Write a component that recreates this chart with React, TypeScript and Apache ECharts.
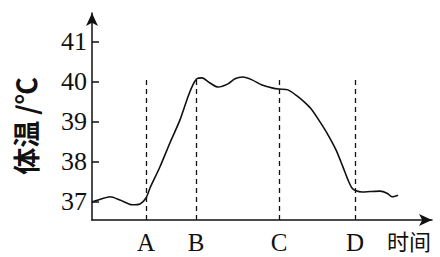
import React, { useEffect, useRef } from "react";
import * as echarts from "echarts";

const timeValues: number[] = [0, 10, 18, 28, 40, 48, 54, 58, 68, 78, 88, 96, 101, 105, 110, 118, 126, 136, 143, 151, 160, 170, 180, 187, 196, 205, 213, 220, 228, 235, 244, 251, 256, 260, 264, 270, 278, 288, 295, 300, 306];
const tempValues: number[] = [37.0, 37.08, 37.13, 37.05, 36.93, 36.95, 37.1, 37.35, 37.88, 38.48, 39.05, 39.63, 39.93, 40.08, 40.1, 39.97, 39.87, 39.95, 40.08, 40.12, 40.05, 39.92, 39.85, 39.82, 39.8, 39.65, 39.48, 39.3, 39.0, 38.72, 38.3, 37.87, 37.55, 37.35, 37.28, 37.25, 37.26, 37.27, 37.22, 37.13, 37.17];

const markerNames: string[] = ["A", "B", "C", "D"];
const markerTimes: number[] = [54, 104, 187, 263];
const yTicks: number[] = [37, 38, 39, 40, 41];

const yMin = 36.55;
const yMax = 41.72;
const dashTop = 40.12;

export default function App() {
  const ref = useRef<HTMLDivElement>(null);
  useEffect(() => {
    if (!ref.current) return;
    const chart = echarts.init(ref.current, null, { renderer: "svg" });
    const serif = "Liberation Serif";
    chart.setOption({
      animation: false,
      backgroundColor: "#ffffff",
      grid: { left: 92, right: 8, top: 13, bottom: 37, containLabel: false },
      xAxis: {
        type: "value",
        min: 0,
        max: 340,
        splitLine: { show: false },
        axisLine: {
          show: true,
          lineStyle: { color: "#111", width: 1.5 },
          symbol: ["none", "arrow"],
          symbolSize: [9, 13],
        },
        axisTick: { show: false },
        axisLabel: {
          show: true,
          customValues: markerTimes,
          formatter: (v: number) => {
            const i = markerTimes.indexOf(v);
            return i >= 0 ? markerNames[i] : "";
          },
          color: "#111",
          fontFamily: serif,
          fontSize: 25,
          margin: 10,
        },
      },
      yAxis: {
        type: "value",
        min: yMin,
        max: yMax,
        splitLine: { show: false },
        axisLine: {
          show: true,
          lineStyle: { color: "#111", width: 1.5 },
          symbol: ["none", "arrow"],
          symbolSize: [9, 13],
        },
        axisTick: {
          show: true,
          inside: true,
          length: 7,
          customValues: yTicks,
          lineStyle: { color: "#111", width: 1.5 },
        },
        axisLabel: {
          show: true,
          customValues: yTicks,
          color: "#111",
          fontFamily: serif,
          fontSize: 26,
          margin: 5,
        },
      },
      graphic: [
        {
          type: "text",
          x: 25,
          y: 126,
          rotation: Math.PI / 2,
          style: {
            text: "体温 /℃",
            fill: "#111",
            font: "bold 27px 'Noto Sans CJK SC', sans-serif",
            align: "center",
            verticalAlign: "middle",
          },
        },
        {
          type: "text",
          x: 431,
          y: 240,
          style: {
            text: "时间",
            fill: "#111",
            font: "22px 'Noto Sans CJK SC', sans-serif",
            align: "right",
            verticalAlign: "middle",
          },
        },
      ],
      series: [
        {
          type: "line",
          data: timeValues.map((t, i) => [t, tempValues[i]]),
          smooth: 0.25,
          symbol: "none",
          lineStyle: { color: "#111", width: 1.6 },
          markLine: {
            silent: true,
            symbol: ["none", "none"],
            label: { show: false },
            lineStyle: { color: "#111", width: 1.3, type: [5, 4] },
            data: markerTimes.map((t) => [
              { coord: [t, yMin] },
              { coord: [t, dashTop] },
            ]),
          },
        },
      ],
    });
    return () => chart.dispose();
  }, []);
  return (
    <div
      ref={ref}
      style={{ width: 440, height: 257, position: "fixed", left: 0, top: 0 }}
    />
  );
}
